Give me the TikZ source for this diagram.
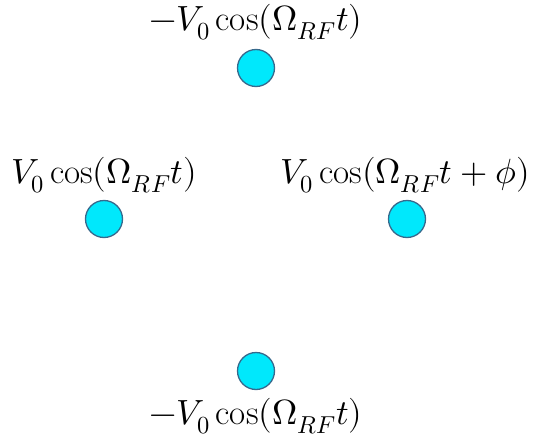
\documentclass[tikz,border=0pt]{standalone}
\usepackage{amsmath}
\usepackage{unicode-math}
\begin{document}
\begin{tikzpicture}[x=1pt,y=-1pt,
  electrode/.style={circle,draw={rgb,255:red,55;green,105;blue,140},line width=1.3pt,fill={rgb,255:red,0;green,232;blue,252},minimum size=37pt,inner sep=0pt},
  lbl/.style={inner sep=0pt,font=\fontsize{35}{40}\selectfont}]
\useasboundingbox (0,0) rectangle (533,439);
\node[electrode] (top) at (256,68) {};
\node[electrode] (left) at (104,219) {};
\node[electrode] (right) at (407,219) {};
\node[electrode] (bottom) at (256,371) {};
\node[lbl] (ttop) at (256,22) {$-V_0\cos(\Omega_{RF}t)$};
\node[lbl] (tleft) at (104,175) {$V_0\cos(\Omega_{RF}t)$};
\node[lbl] (tright) at (405,175) {$V_0\cos(\Omega_{RF}t+\phi)$};
\node[lbl] (tbottom) at (256,416) {$-V_0\cos(\Omega_{RF}t)$};
\end{tikzpicture}
\end{document}
